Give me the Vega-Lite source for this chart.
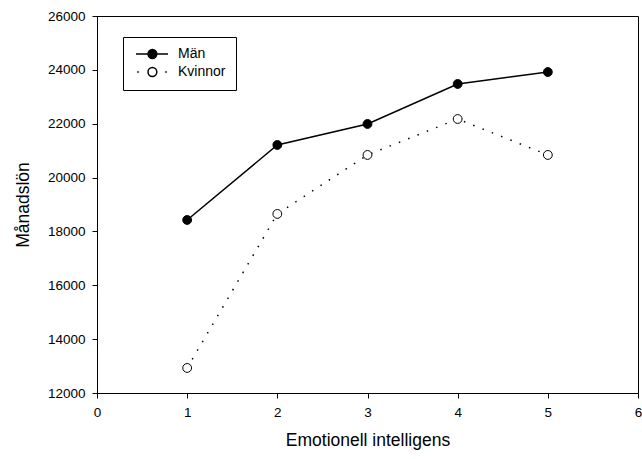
{
  "$schema": "https://vega.github.io/schema/vega-lite/v6.json",
  "width": 541,
  "height": 377,
  "autosize": {"type": "none"},
  "padding": {"left": 97, "top": 16, "right": 4, "bottom": 66},
  "background": "white",
  "config": {
    "font": "Liberation Sans",
    "view": {"stroke": "black", "strokeWidth": 1},
    "axis": {
      "grid": false,
      "domainColor": "black",
      "tickColor": "black",
      "tickSize": 5,
      "labelColor": "black",
      "labelFontSize": 13.5,
      "labelFont": "Liberation Sans",
      "titleFont": "Liberation Sans",
      "titleFontSize": 17.5,
      "titleFontWeight": "normal",
      "titleColor": "black"
    },
    "legend": {
      "title": null,
      "orient": "none",
      "legendX": 26,
      "legendY": 21,
      "strokeColor": "black",
      "fillColor": "white",
      "padding": 10,
      "rowPadding": 2,
      "labelFontSize": 14,
      "labelColor": "black",
      "labelFont": "Liberation Sans",
      "labelOffset": 31,
      "symbolSize": 64,
      "symbolType": "M-1,0H2M4.2,0H7M2,0A1.1,1.1,0,1,1,4.2,0A1.1,1.1,0,1,1,2,0Z",
      "symbolStrokeColor": "black",
      "symbolStrokeWidth": 1.5,
      "symbolOpacity": 1
    }
  },
  "data": {
    "values": [
      {"serie": "Män", "ei": 1, "lon": 18425},
      {"serie": "Män", "ei": 2, "lon": 21210},
      {"serie": "Män", "ei": 3, "lon": 21990},
      {"serie": "Män", "ei": 4, "lon": 23475},
      {"serie": "Män", "ei": 5, "lon": 23920},
      {"serie": "Kvinnor", "ei": 1, "lon": 12930},
      {"serie": "Kvinnor", "ei": 2, "lon": 18650},
      {"serie": "Kvinnor", "ei": 3, "lon": 20840},
      {"serie": "Kvinnor", "ei": 4, "lon": 22175},
      {"serie": "Kvinnor", "ei": 5, "lon": 20840}
    ]
  },
  "encoding": {
    "x": {
      "field": "ei", "type": "quantitative",
      "scale": {"domain": [0, 6], "nice": false},
      "axis": {"title": "Emotionell intelligens", "values": [0, 1, 2, 3, 4, 5, 6], "labelPadding": 7, "titlePadding": 13, "labelFlush": false}
    },
    "y": {
      "field": "lon", "type": "quantitative",
      "scale": {"domain": [12000, 26000], "nice": false, "zero": false},
      "axis": {"title": "Månadslön", "values": [12000, 14000, 16000, 18000, 20000, 22000, 24000, 26000], "format": "d", "labelPadding": 7, "titlePadding": 15, "labelFlush": false}
    }
  },
  "layer": [
    {
      "transform": [{"filter": "datum.serie === 'Män'"}],
      "mark": {"type": "line", "color": "black", "strokeWidth": 1.5},
      "encoding": {}
    },
    {
      "transform": [{"filter": "datum.serie === 'Kvinnor'"}],
      "mark": {"type": "line", "color": "black", "strokeWidth": 1.5, "strokeDash": [1.5, 8.5]},
      "encoding": {}
    },
    {
      "mark": {"type": "point", "filled": true, "size": 78, "stroke": "black", "strokeWidth": 1, "opacity": 1},
      "encoding": {
        "fill": {
          "field": "serie", "type": "nominal",
          "scale": {"domain": ["Män", "Kvinnor"], "range": ["black", "white"]},
          "legend": {
            "encode": {
              "symbols": {
                "update": {
                  "shape": {"signal": "datum.value === 'Kvinnor' ? 'M-0.7,0H-0.3M6.3,0H6.7M2,0A1.1,1.1,0,1,1,4.2,0A1.1,1.1,0,1,1,2,0Z' : 'M-1,0H2M4.2,0H7M2,0A1.1,1.1,0,1,1,4.2,0A1.1,1.1,0,1,1,2,0Z'"}
                }
              }
            }
          }
        }
      }
    }
  ]
}
